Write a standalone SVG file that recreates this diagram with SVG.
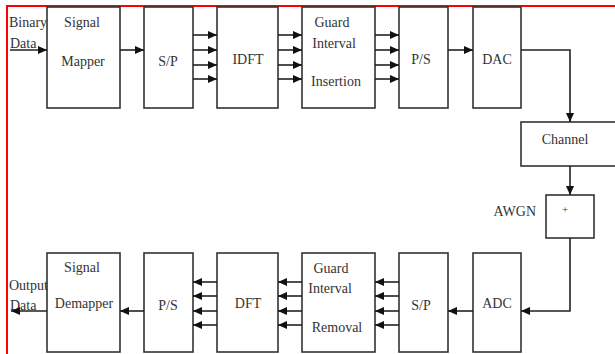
<svg xmlns="http://www.w3.org/2000/svg" width="615" height="354" viewBox="0 0 615 354">
<defs>
<marker id="ah" markerWidth="9" markerHeight="8" refX="9" refY="4" orient="auto" markerUnits="userSpaceOnUse">
<path d="M0,0 L9,4 L0,8 Z" fill="#111"/>
</marker>
<style>
.box{fill:#fff;stroke:#333;stroke-width:1.6}
.ln{fill:none;stroke:#222;stroke-width:1.6}
.ar{fill:none;stroke:#222;stroke-width:1.6;marker-end:url(#ah)}
text{font-family:'Liberation Serif','DejaVu Serif',serif;font-size:14px;fill:#333}
.c{text-anchor:middle}
</style>
</defs>
<rect x="0" y="0" width="615" height="354" fill="#fff"/>
<g id="border"><path d="M7,354 V6 H615" fill="none" stroke="#f00" stroke-width="2"/></g>
<g font-family="Liberation Serif, DejaVu Serif, serif">
<g id="mapper"><rect class="box" x="47" y="7" width="73" height="101"/><text class="c" x="82" y="27">Signal</text><text class="c" x="83" y="66">Mapper</text></g>
<g id="sp1"><rect class="box" x="144" y="7" width="49" height="101"/><text class="c" x="168" y="66">S/P</text></g>
<g id="idft"><rect class="box" x="217" y="7" width="61" height="101"/><text class="c" x="248" y="64">IDFT</text></g>
<g id="gii"><rect class="box" x="302" y="7" width="73" height="101"/><text class="c" x="332" y="27">Guard</text><text class="c" x="334" y="48">Interval</text><text class="c" x="336" y="86">Insertion</text></g>
<g id="ps1"><rect class="box" x="399" y="7" width="49" height="101"/><text class="c" x="421" y="64">P/S</text></g>
<g id="dac"><rect class="box" x="473" y="7" width="48" height="101"/><text class="c" x="497" y="64">DAC</text></g>
<g id="channel"><rect class="box" x="521" y="122" width="96" height="44"/><text class="c" x="565" y="144">Channel</text></g>
<g id="awgn"><rect class="box" x="546" y="195" width="48" height="43"/><text class="c" x="565" y="213" style="font-size:11px">+</text><text x="536" y="216" text-anchor="end">AWGN</text></g>
<g id="adc"><rect class="box" x="473" y="253" width="48" height="99"/><text class="c" x="497" y="308">ADC</text></g>
<g id="sp2"><rect class="box" x="399" y="253" width="49" height="99"/><text class="c" x="421" y="310">S/P</text></g>
<g id="gir"><rect class="box" x="302" y="253" width="73" height="99"/><text class="c" x="331" y="273">Guard</text><text class="c" x="330" y="293">Interval</text><text class="c" x="337" y="332">Removal</text></g>
<g id="dft"><rect class="box" x="217" y="253" width="61" height="99"/><text class="c" x="248" y="308">DFT</text></g>
<g id="ps2"><rect class="box" x="144" y="253" width="49" height="99"/><text class="c" x="168" y="310">P/S</text></g>
<g id="demapper"><rect class="box" x="47" y="253" width="73" height="99"/><text class="c" x="82" y="272">Signal</text><text class="c" x="84" y="308">Demapper</text></g>
<g id="labels">
<text x="9" y="27">Binary</text><text x="10" y="48">Data</text>
<text x="9" y="290">Output</text><text x="10" y="310">Data</text>
</g>
</g>
<g id="connectors">
<path class="ar" d="M10,50 H47"/>
<path class="ar" d="M120,50 H144"/>
<path class="ar" d="M193,35 H217"/><path class="ar" d="M193,50 H217"/><path class="ar" d="M193,65 H217"/><path class="ar" d="M193,79 H217"/>
<path class="ar" d="M278,35 H302"/><path class="ar" d="M278,50 H302"/><path class="ar" d="M278,65 H302"/><path class="ar" d="M278,79 H302"/>
<path class="ar" d="M375,35 H399"/><path class="ar" d="M375,50 H399"/><path class="ar" d="M375,65 H399"/><path class="ar" d="M375,79 H399"/>
<path class="ar" d="M448,50 H473"/>
<path class="ar" d="M521,50 H570 V122"/>
<path class="ar" d="M570,166 V195"/>
<path class="ar" d="M570,238 V311 H521"/>
<path class="ar" d="M473,311 H448"/>
<path class="ar" d="M399,282 H375"/><path class="ar" d="M399,296 H375"/><path class="ar" d="M399,311 H375"/><path class="ar" d="M399,325 H375"/>
<path class="ar" d="M302,282 H278"/><path class="ar" d="M302,296 H278"/><path class="ar" d="M302,311 H278"/><path class="ar" d="M302,325 H278"/>
<path class="ar" d="M217,282 H193"/><path class="ar" d="M217,296 H193"/><path class="ar" d="M217,311 H193"/><path class="ar" d="M217,325 H193"/>
<path class="ar" d="M144,311 H120"/>
<path class="ar" d="M47,311 H11"/>
</g>
</svg>
